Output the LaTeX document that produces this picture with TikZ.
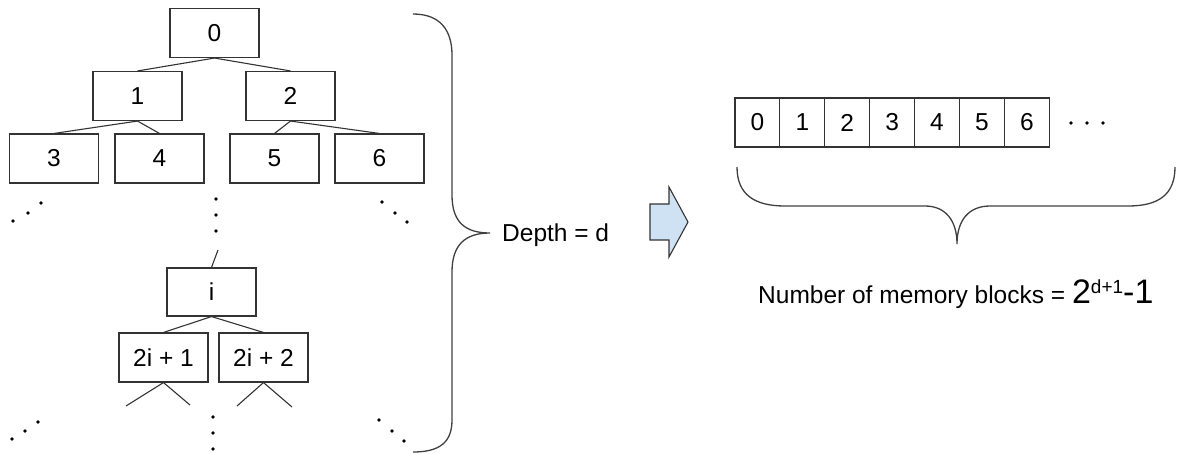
\documentclass[tikz,border=0pt]{standalone}
\usepackage{fontspec}
\setmainfont{Liberation Sans}
\definecolor{arrowblue}{HTML}{CFE2F3}
\begin{document}
\begin{tikzpicture}[x=1pt,y=-1pt,
	every node/.style={font=\fontsize{24.5}{28}\selectfont},
	treebox/.style={draw=black!80,line width=1.1pt,minimum width=89pt,minimum height=49pt,inner sep=0pt},
	cell/.style={draw=black!80,line width=1.1pt,minimum width=44.9pt,minimum height=49pt,inner sep=0pt},
	link/.style={black!80,line width=1.1pt},
	brace/.style={black!75,line width=1.3pt}]
	\useasboundingbox (0,0) rectangle (1179,453);

	% Tree, first three levels
	\node[treebox] (n0) at (214.5,33) {0};
	\node[treebox] (n1) at (137.5,96) {1};
	\node[treebox] (n2) at (290.5,96) {2};
	\node[treebox] (n3) at (54,158.5) {3};
	\node[treebox] (n4) at (159.5,158.5) {4};
	\node[treebox] (n5) at (274.5,158.5) {5};
	\node[treebox] (n6) at (379.5,158.5) {6};
	\draw[link] (n0.south) -- (n1.north);
	\draw[link] (n0.south) -- (n2.north);
	\draw[link] (n1.south) -- (n3.north);
	\draw[link] (n1.south) -- (n4.north);
	\draw[link] (n2.south) -- (n5.north);
	\draw[link] (n2.south) -- (n6.north);

	% Node i and its children
	\node[treebox,minimum height=48pt] (ni) at (211.5,292) {i};
	\node[treebox] (nl) at (163.5,357.5) {2i + 1};
	\node[treebox] (nr) at (263.5,357.5) {2i + 2};
	\coordinate (up) at (218,250);
	\coordinate (la) at (126,406);
	\coordinate (lb) at (190,405);
	\coordinate (ra) at (237,406);
	\coordinate (rb) at (292,407);
	\draw[link] (up) -- (ni.north);
	\draw[link] (ni.south) -- (nl.north);
	\draw[link] (ni.south) -- (nr.north);
	\draw[link] (la) -- (nl.south) -- (lb);
	\draw[link] (ra) -- (nr.south) -- (rb);

	% Ellipsis dots
	\foreach \p in {(13,221),(28,213),(41,203),(216,199),(216,215),(216,231),
		(382,202),(395,213),(407,222),(12,439),(25,431),(38,422),
		(213,417),(213,433),(213,449),(379,420),(392,431),(404,441)}
		\fill \p circle[radius=1.9pt];

	% Depth brace
	\draw[brace] (413,14) .. controls (440,14) and (452,30) .. (452,55) -- (452,195)
		.. controls (452,222) and (465,233) .. (490,233)
		.. controls (465,233) and (452,245) .. (452,272) -- (452,420)
		.. controls (452,442) and (440,452) .. (413,452);
	\node[anchor=base west,inner sep=0pt] (depth) at (502,241) {Depth = d};

	% Block arrow
	\draw[black!80,line width=1.1pt,fill=arrowblue] (650,204) -- (669,204) -- (669,187)
		-- (688,222) -- (669,257) -- (669,240) -- (650,240) -- cycle;

	% Memory blocks
	\foreach \k in {0,...,6}
		\node[cell] (c\k) at ({757.45+44.9*\k},122.5) {\k};
	\foreach \x in {1071,1087,1103}
		\fill (\x,123) circle[radius=1.9pt];

	% Array brace
	\draw[brace] (737,167) .. controls (737,195) and (755,206) .. (785,206) -- (925,206)
		.. controls (945,206) and (957,220) .. (957,244)
		.. controls (957,220) and (969,206) .. (990,206) -- (1128,206)
		.. controls (1158,206) and (1175,195) .. (1175,167);
	\node[anchor=base west,inner sep=0pt] (count) at (758,303)
		{Number of memory blocks = {\fontsize{34}{36}\selectfont 2}\raisebox{9.5pt}{\fontsize{19}{21}\selectfont d+1}{\fontsize{34}{36}\selectfont -1}};
\end{tikzpicture}
\end{document}
